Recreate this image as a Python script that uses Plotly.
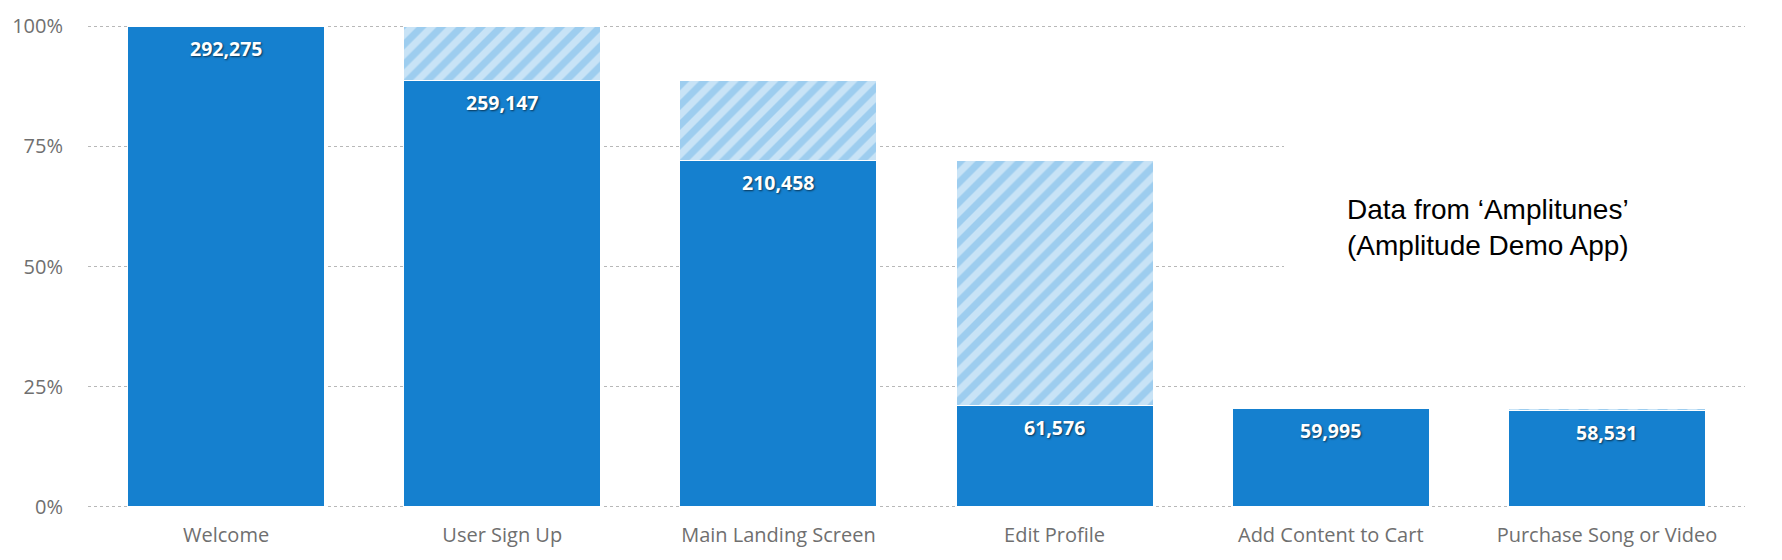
import plotly.graph_objects as go

steps = ["Welcome", "User Sign Up", "Main Landing Screen", "Edit Profile",
         "Add Content to Cart", "Purchase Song or Video"]
users = [292275, 259147, 210458, 61576, 59995, 58531]
# top of the hatched (drop-off) segment, in % of first step
hatch_top_pct = [100.0, 100.0, 88.66, 72.01, 20.53, 20.53]
y_ticks = [0, 25, 50, 75, 100]
y_tick_text = ["0%", "25%", "50%", "75%", "100%"]
note_text = "Data from ‘Amplitunes’<br>(Amplitude Demo App)"

base = users[0]
pct = [u / base * 100 for u in users]
drop = [max(t - p, 0) for t, p in zip(hatch_top_pct, pct)]

BLUE = "#1580cf"
fig = go.Figure()
fig.add_trace(go.Bar(
    x=steps, y=pct, marker=dict(color=BLUE, line=dict(color="white", width=1)),
    hoverinfo="skip", showlegend=False))
fig.add_trace(go.Bar(
    x=steps, y=drop,
    marker=dict(color="#c8e3f6", line=dict(color="white", width=1),
                pattern=dict(shape="/", fgcolor="#9dcdef", bgcolor="#c8e3f6",
                             size=14, solidity=0.5, fillmode="replace")),
    hoverinfo="skip", showlegend=False))

for s, p, u in zip(steps, pct, users):
    fig.add_annotation(x=s, y=p, yref="y", text=f"{u:,}", showarrow=False,
                       yshift=-22, yanchor="middle",
                       font=dict(family="Open Sans", size=19.5, color="white",
                                 weight="bold", shadow="1px 1px 2px rgba(0,0,0,0.6)"))

# white panel behind the note (hides the grid lines there)
fig.add_annotation(xref="paper", yref="y", x=0.722, y=62.5, text=" ",
                   showarrow=False, xanchor="left", yanchor="middle",
                   width=470, height=132, bgcolor="white", borderpad=0, borderwidth=0)

fig.add_annotation(xref="paper", yref="paper", x=0.7586, y=0.58, text=note_text,
                   showarrow=False, xanchor="left", yanchor="middle", align="left",
                   font=dict(family="Liberation Sans", size=28, color="black"))

fig.update_layout(
    width=1782, height=560, barmode="stack", bargap=0.287,
    plot_bgcolor="white", paper_bgcolor="white",
    margin=dict(l=88, r=37, t=23, b=50),
)
fig.update_xaxes(showgrid=False, showline=False, ticks="",
                 tickfont=dict(family="Open Sans", size=20, color="#6f6f6f"),
                 ticklabelstandoff=12)
fig.update_yaxes(range=[-0.5, 100.5], tickvals=y_ticks, ticktext=y_tick_text,
                 showgrid=True, gridcolor="#b8b8b8", griddash="dot", gridwidth=1,
                 zeroline=False, showline=False, ticks="",
                 tickfont=dict(family="Open Sans", size=20, color="#6f6f6f"),
                 ticklabelstandoff=24)

fig.write_html("out.html")
